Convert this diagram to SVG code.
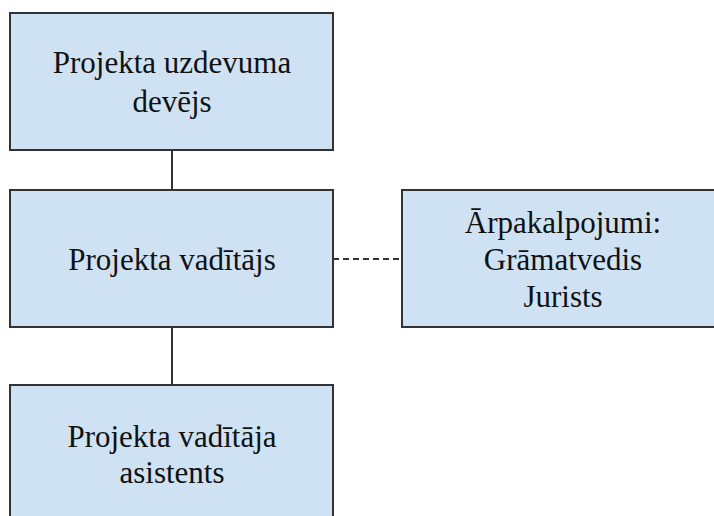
<svg xmlns="http://www.w3.org/2000/svg" width="714" height="516" viewBox="0 0 714 516">
<style>
.box{fill:#cfe2f3;stroke:#333;stroke-width:2}
.t{font-family:"Liberation Serif","Times New Roman",serif;font-size:31px;fill:#111;text-anchor:middle}
.c{stroke:#333;stroke-width:2;fill:none}
.d{stroke-dasharray:6 4}
</style>
<rect width="714" height="516" fill="#fff"/>
<g id="connectors">
<line class="c" x1="172" y1="150" x2="172" y2="190"/>
<line class="c" x1="172" y1="327" x2="172" y2="385"/>
<line class="c d" x1="333" y1="259" x2="402" y2="259"/>
</g>
<g id="node-devejs">
<rect class="box" x="10" y="13" width="323" height="137"/>
<text class="t" x="172" y="73">Projekta uzdevuma</text>
<text class="t" x="172" y="112">devējs</text>
</g>
<g id="node-vaditajs">
<rect class="box" x="10" y="190" width="323" height="137"/>
<text class="t" x="172" y="270">Projekta vadītājs</text>
</g>
<g id="node-arpakalpojumi">
<rect class="box" x="402" y="190" width="322" height="137"/>
<text class="t" x="563" y="233">Ārpakalpojumi:</text>
<text class="t" x="563" y="270">Grāmatvedis</text>
<text class="t" x="563" y="307">Jurists</text>
</g>
<g id="node-asistents">
<rect class="box" x="10" y="385" width="323" height="145"/>
<text class="t" x="172" y="447">Projekta vadītāja</text>
<text class="t" x="172" y="483">asistents</text>
</g>
</svg>
